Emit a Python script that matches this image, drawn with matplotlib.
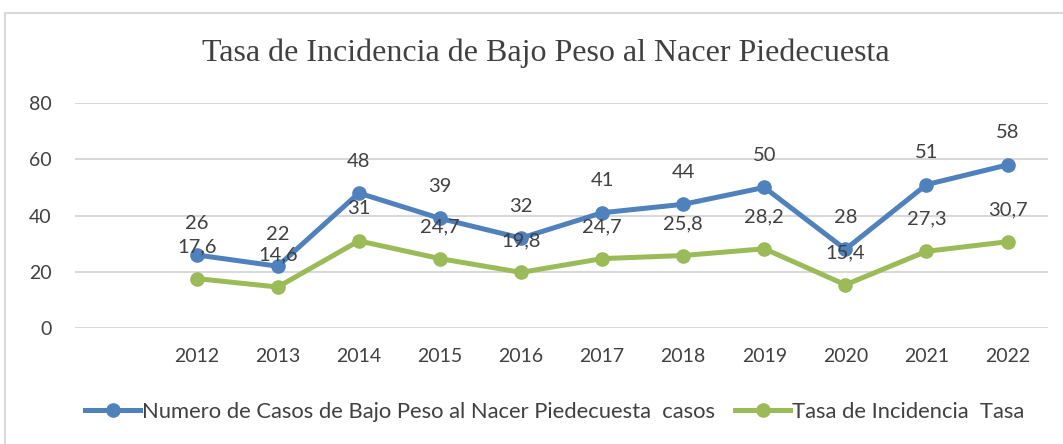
import matplotlib.pyplot as plt
from matplotlib.patches import Rectangle
import numpy as np

categories = ['', '2012', '2013', '2014', '2015', '2016', '2017', '2018', '2019', '2020', '2021', '2022']
casos = [np.nan, 26, 22, 48, 39, 32, 41, 44, 50, 28, 51, 58]
tasa = [np.nan, 17.6, 14.6, 31, 24.7, 19.8, 24.7, 25.8, 28.2, 15.4, 27.3, 30.7]
title = 'Tasa de Incidencia de Bajo Peso al Nacer Piedecuesta'
label_casos = 'Numero de Casos de Bajo Peso al Nacer Piedecuesta  casos'
label_tasa = 'Tasa de Incidencia  Tasa'

blue = '#4F81BD'
green = '#9BBB59'
text_color = '#404040'


def fmt(v):
    return ('%g' % v).replace('.', ',')


def main():
    plt.rcParams['font.family'] = ['Lato', 'DejaVu Sans']
    fig = plt.figure(figsize=(10.63, 4.44), dpi=100)
    ax = fig.add_axes([0.0706, 0.261, 0.9154, 0.507])

    x = np.arange(len(categories))
    ax.plot(x, casos, color=blue, lw=3.6, marker='o', ms=9.5, label=label_casos)
    ax.plot(x, tasa, color=green, lw=3.6, marker='o', ms=9.5, label=label_tasa)

    for xi, v in zip(x, casos):
        if not np.isnan(v):
            ax.annotate(fmt(v), (xi, v), xytext=(0, 23), textcoords='offset points',
                        ha='center', va='center', fontsize=14.5, color=text_color)
    for xi, v in zip(x, tasa):
        if not np.isnan(v):
            ax.annotate(fmt(v), (xi, v), xytext=(0, 23), textcoords='offset points',
                        ha='center', va='center', fontsize=14.5, color=text_color)

    ax.set_xlim(-0.5, len(categories) - 0.5)
    ax.set_ylim(0, 80)
    ax.set_yticks([0, 20, 40, 60, 80])
    ax.set_xticks(x)
    ax.set_xticklabels(categories)
    ax.tick_params(axis='both', length=0, labelsize=14, colors=text_color)
    ax.tick_params(axis='y', pad=17)
    ax.tick_params(axis='x', pad=14)
    ax.grid(axis='y', color='#D9D9D9', lw=1.5)
    ax.set_axisbelow(True)
    for s in ax.spines.values():
        s.set_visible(False)

    fig.text(0.513, 0.88, title, ha='center', va='center', fontsize=23,
             family='Liberation Serif', color=text_color)

    fig.legend(loc='center', bbox_to_anchor=(0.522, 0.072), ncol=2, frameon=False,
               fontsize=15.8, handlelength=2.5, handletextpad=0.1, columnspacing=0.9,
               labelcolor=text_color)

    fig.patches.append(Rectangle((5 / 1063, -0.05), 1.2, 1 - 13 / 444 + 0.05,
                                 transform=fig.transFigure, fill=False,
                                 edgecolor='#D9D9D9', lw=1.5))

    fig.savefig('out.png', dpi=100)


if __name__ == '__main__':
    main()
